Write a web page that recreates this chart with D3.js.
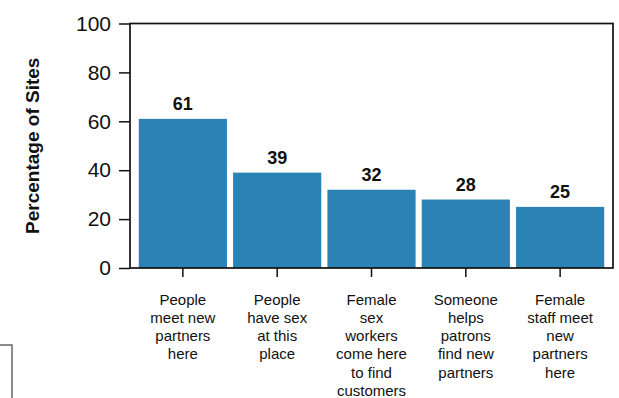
<!DOCTYPE html>
<html><head><meta charset="utf-8">
<script src="https://cdn.jsdelivr.net/npm/d3@7/dist/d3.min.js"></script>
<style>
html,body{margin:0;padding:0;background:#fff;}
svg{display:block;font-family:"Liberation Sans",Arial,sans-serif;}
</style></head>
<body><svg id="c" width="619" height="398"></svg>
<script>
const categories = [
  ["People","meet new","partners","here"],
  ["People","have sex","at this","place"],
  ["Female","sex","workers","come here","to find","customers"],
  ["Someone","helps","patrons","find new","partners"],
  ["Female","staff meet","new","partners","here"]
];
const values = [61, 39, 32, 28, 25];
const yTicks = [0, 20, 40, 60, 80, 100];
const yTitle = "Percentage of Sites";

const svg = d3.select("#c");
const pL = 130, pR = 613, pT = 23.5, pB = 268;

const x = d3.scaleBand().domain(d3.range(values.length)).range([pL, pR])
  .paddingInner(0.065).paddingOuter(0.093);
const y = d3.scaleLinear().domain([0, 100]).range([pB, pT]);

// bars
svg.append("g").selectAll("rect").data(values).join("rect")
  .attr("x", (d,i) => x(i)).attr("width", x.bandwidth())
  .attr("y", d => y(d)).attr("height", d => y(0) - y(d))
  .attr("fill", "#2a83b4");

// value labels
svg.append("g").selectAll("text").data(values).join("text")
  .attr("x", (d,i) => x(i) + x.bandwidth()/2)
  .attr("y", d => y(d) - 9)
  .attr("text-anchor", "middle")
  .attr("font-weight", "bold").attr("font-size", 18).attr("fill", "#111")
  .text(d => d);

// frame
svg.append("rect").attr("x", pL).attr("y", pT)
  .attr("width", pR - pL).attr("height", pB - pT)
  .attr("fill", "none").attr("stroke", "#111").attr("stroke-width", 1.7);

// y axis
const ya = svg.append("g").attr("transform", `translate(${pL},0)`)
  .call(d3.axisLeft(y).tickValues(yTicks).tickSize(11).tickPadding(8));
ya.select(".domain").remove();
ya.selectAll("line").attr("stroke", "#111").attr("stroke-width", 1.5);
ya.selectAll("text").attr("font-size", 21).attr("fill", "#111")
  .attr("font-family", "Liberation Sans, Arial, sans-serif");

// x ticks
const xa = svg.append("g").attr("transform", `translate(0,${pB})`)
  .call(d3.axisBottom(x).tickSize(9).tickFormat(""));
xa.select(".domain").remove();
xa.selectAll("line").attr("stroke", "#111").attr("stroke-width", 1.5);

// category labels
const cl = svg.append("g").selectAll("text").data(categories).join("text")
  .attr("text-anchor", "middle").attr("font-size", 15).attr("fill", "#111");
cl.each(function(lines, i) {
  const t = d3.select(this);
  lines.forEach((ln, j) => {
    t.append("tspan").attr("x", x(i) + x.bandwidth()/2)
      .attr("y", 304.5 + j * 18.3).text(ln);
  });
});

// y title
svg.append("text")
  .attr("transform", `translate(32,${(pT+pB)/2}) rotate(-90)`)
  .attr("text-anchor", "middle").attr("dominant-baseline", "central")
  .attr("font-weight", "bold").attr("font-size", 19).attr("fill", "#111")
  .text(yTitle);

// partial box at bottom-left edge (cropped element in source)
svg.append("rect").attr("x", -3).attr("y", 345).attr("width", 15).attr("height", 60)
  .attr("fill", "none").attr("stroke", "#666").attr("stroke-width", 1.5);
</script></body></html>
